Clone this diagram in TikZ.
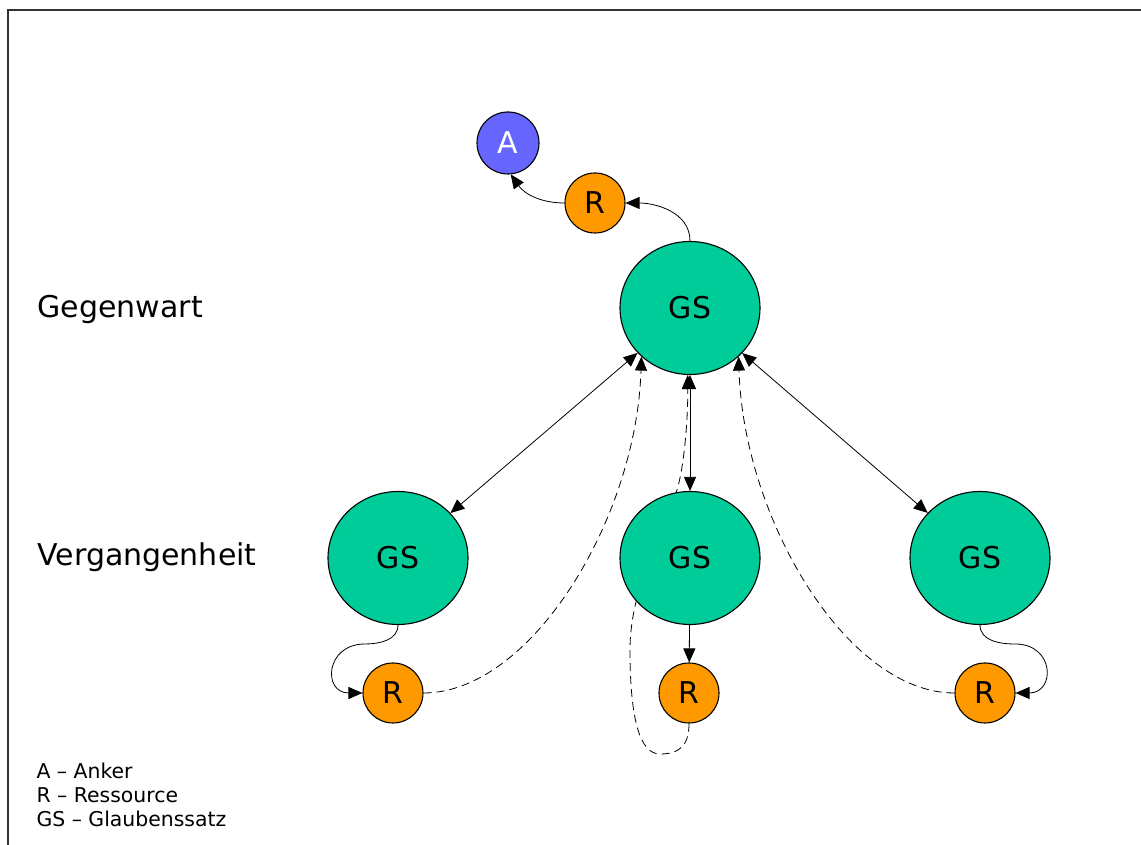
\documentclass[tikz,border=0pt]{standalone}
\usepackage{fontspec}
\setmainfont{DejaVu Sans}
\usetikzlibrary{shapes.geometric,arrows.meta,backgrounds}
\definecolor{gsgreen}{HTML}{00CC99}
\definecolor{resorange}{HTML}{FF9900}
\definecolor{ankerblue}{HTML}{6666FF}
\tikzset{>={Triangle[length=7pt,width=6pt]}}
\newcommand{\grossschrift}{\fontsize{15}{18}\selectfont}
\newcommand{\kleinschrift}{\fontsize{10.2}{12}\selectfont}

\begin{document}
\begin{tikzpicture}[x=0.5pt,y=0.5pt,line width=0.55pt,
    gs/.style={ellipse,draw,fill=gsgreen,minimum width=70pt,minimum height=66.5pt,inner sep=0pt,font=\grossschrift},
    res/.style={circle,draw,fill=resorange,minimum size=30pt,inner sep=0pt,font=\grossschrift},
    anker/.style={circle,draw,fill=ankerblue,text=white,minimum size=31pt,inner sep=0pt,font=\grossschrift},
    zeit/.style={anchor=base west,inner sep=0pt,font=\grossschrift},
    legende/.style={anchor=base west,inner sep=0pt,font=\kleinschrift},
    gestrichelt/.style={dash pattern=on 4pt off 2.5pt}]
  \useasboundingbox (0,0) rectangle (1141,845);
  \draw[line width=1pt,black!80] (8,0) -- (8,835) -- (1141,835);
  % Gegenwart
  \node[gs] (gsT) at (690,537) {GS};
  \node[res] (rT) at (595,642) {R};
  \node[anker] (a) at (508,702) {A};
  % Vergangenheit
  \node[gs] (gsL) at (398,287) {GS};
  \node[gs] (gsM) at (690,287) {GS};
  \node[gs] (gsR) at (980,287) {GS};
  \node[res] (rL) at (393,152) {R};
  \node[res] (rM) at (689,152) {R};
  \node[res] (rR) at (985,152) {R};
  \node[zeit] (gegenwart) at (37,527) {Gegenwart};
  \node[zeit] (vergangenheit) at (37,279) {Vergangenheit};
  \node[legende] (legA) at (36,66) {A -- Anker};
  \node[legende] (legR) at (36,42) {R -- Ressource};
  \node[legende] (legGS) at (36,18) {GS -- Glaubenssatz};
  \begin{scope}[on background layer]
    \draw[->] (gsT.north) to[out=90,in=0] (rT.east);
    \draw[->] (rT.west) to[out=180,in=-55] (a.-85);
    \draw[<->] (gsT) -- (gsL);
    \draw[<->] (gsT) -- (gsM);
    \draw[<->] (gsT) -- (gsR);
    \draw[->] (gsM) -- (rM);
    \draw[->] (gsL.south) to[out=-90,in=0] (365,201) .. controls +(-40,0) and +(-40,0) .. (rL.west);
    \draw[->] (gsR.south) to[out=-90,in=180] (1015,201) .. controls +(40,0) and +(40,0) .. (rR.east);
    \draw[->,gestrichelt] (rL.east) .. controls +(107,0) and +(-5,-163) .. (gsT.225);
    \draw[->,gestrichelt] (rR.west) .. controls +(-107,0) and +(5,-163) .. (gsT.-45);
    \draw[->,gestrichelt] (rM.south) .. controls (689,100) and (680,91) .. (660,91)
      .. controls (640,91) and (630,125) .. (630,195)
      .. controls (630,255) and (660,306) .. (676,352)
      .. controls (684,375) and (688,425) .. (gsT.268);
  \end{scope}
\end{tikzpicture}
\end{document}
